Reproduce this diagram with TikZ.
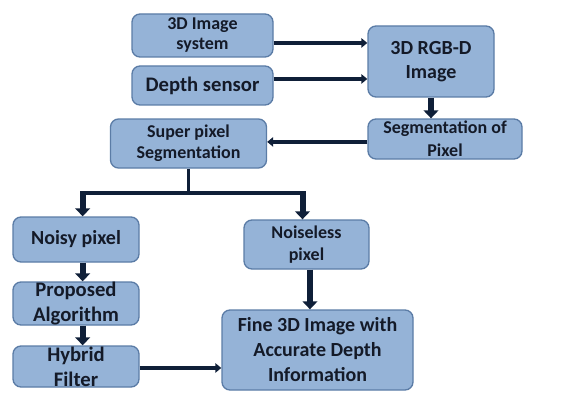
\documentclass[tikz,border=0pt]{standalone}
\usepackage{fontspec}
\setmainfont{Carlito}
\usetikzlibrary{arrows.meta}

\definecolor{boxfill}{HTML}{95B3D7}
\definecolor{boxline}{HTML}{5B7CA6}
\definecolor{textnavy}{HTML}{141A28}
\definecolor{arrownavy}{HTML}{0F1F38}

\begin{document}
\begin{tikzpicture}
    [
        x=0.75pt, y=-0.75pt,
        blue_box/.style={rectangle, rounded corners=6pt, draw=boxline, fill=boxfill, line width=1pt, align=center, text=textnavy, inner sep=0pt},
        thin_arrow/.style={-{Triangle[length=4.5pt, width=7pt]}, line width=2.6pt, color=arrownavy},
        fat_arrow/.style={-{Triangle[length=6pt, width=11pt]}, line width=4.5pt, color=arrownavy},
    ]
        \useasboundingbox (0,0) rectangle (566,392) ;
        \node[blue_box, minimum width=105.75pt, minimum height=32.25pt, font=\fontsize{13.5}{15}\selectfont\bfseries] (imgsys) at (202.5,35.5) {3D Image\\system} ;
        \node[blue_box, minimum width=105.75pt, minimum height=29.25pt, font=\fontsize{15.5}{17}\selectfont\bfseries] (depth) at (202.5,85.5) {Depth sensor} ;
        \node[blue_box, minimum width=94.5pt, minimum height=53.25pt, font=\fontsize{15}{18}\selectfont\bfseries] (rgbd) at (431,61.5) {3D RGB-D\\Image} ;
        \node[blue_box, minimum width=115.5pt, minimum height=30pt, font=\fontsize{13.5}{17}\selectfont\bfseries] (segpix) at (445,139) {Segmentation of\\Pixel} ;
        \node[blue_box, minimum width=117pt, minimum height=36.75pt, font=\fontsize{13.5}{15.75}\selectfont\bfseries] (superpix) at (188.5,143.5) {Super pixel\\Segmentation} ;
        \node[blue_box, minimum width=94.5pt, minimum height=33.75pt, font=\fontsize{15}{17}\selectfont\bfseries] (noisy) at (76,239.5) {Noisy pixel} ;
        \node[blue_box, minimum width=93.75pt, minimum height=36.75pt, font=\fontsize{13.5}{16.5}\selectfont\bfseries] (noiseless) at (306.5,244.5) {Noiseless\\pixel} ;
        \node[blue_box, minimum width=94.5pt, minimum height=30.75pt, font=\fontsize{15.5}{18.75}\selectfont\bfseries] (proposed) at (76,303.5) {Proposed\\Algorithm} ;
        \node[blue_box, minimum width=94.5pt, minimum height=30.75pt, font=\fontsize{15.5}{18.75}\selectfont\bfseries] (hybrid) at (76,366.5) {Hybrid\\Filter} ;
        \node[blue_box, minimum width=143.25pt, minimum height=60pt, font=\fontsize{15}{18.75}\selectfont\bfseries] (fine) at (317.5,350) {Fine 3D Image with\\Accurate Depth\\Information} ;
        \coordinate (split) at (superpix.south |- 0,193) ;
        \coordinate (splitleft) at ([xshift=5pt]noisy.north |- split) ;
        \coordinate (splitright) at ([xshift=-3pt]noiseless.north |- split) ;
        \draw[thin_arrow] ([yshift=-5.6pt]imgsys.east) -- ([yshift=-5.6pt]imgsys.east -| rgbd.west) ;
        \draw[thin_arrow] ([yshift=4.9pt]depth.east) -- ([yshift=4.9pt]depth.east -| rgbd.west) ;
        \draw[fat_arrow] (rgbd.south) -- (rgbd.south |- segpix.north) ;
        \draw[thin_arrow] ([yshift=-2.2pt]segpix.west) -- ([yshift=-2.2pt]segpix.west -| superpix.east) ;
        \draw[line width=2.6pt, color=arrownavy] (superpix.south) -- (split) ;
        \draw[line width=2.6pt, color=arrownavy] (splitleft) -- (splitright) ;
        \draw[fat_arrow] ([yshift=1.2pt]splitleft) -- ([xshift=5pt]noisy.north) ;
        \draw[fat_arrow] ([yshift=1.2pt]splitright) -- ([xshift=-3pt]noiseless.north) ;
        \draw[fat_arrow] ([xshift=5pt]noisy.south) -- ([xshift=5pt]proposed.north) ;
        \draw[fat_arrow] ([xshift=5pt]proposed.south) -- ([xshift=5pt]hybrid.north) ;
        \draw[fat_arrow] ([xshift=2.6pt]noiseless.south) -- ([xshift=2.6pt]noiseless.south |- fine.north) ;
        \draw[thin_arrow] ([yshift=-1.1pt]hybrid.east) -- ([yshift=-1.1pt]hybrid.east -| fine.west) ;
\end{tikzpicture}
\end{document}
